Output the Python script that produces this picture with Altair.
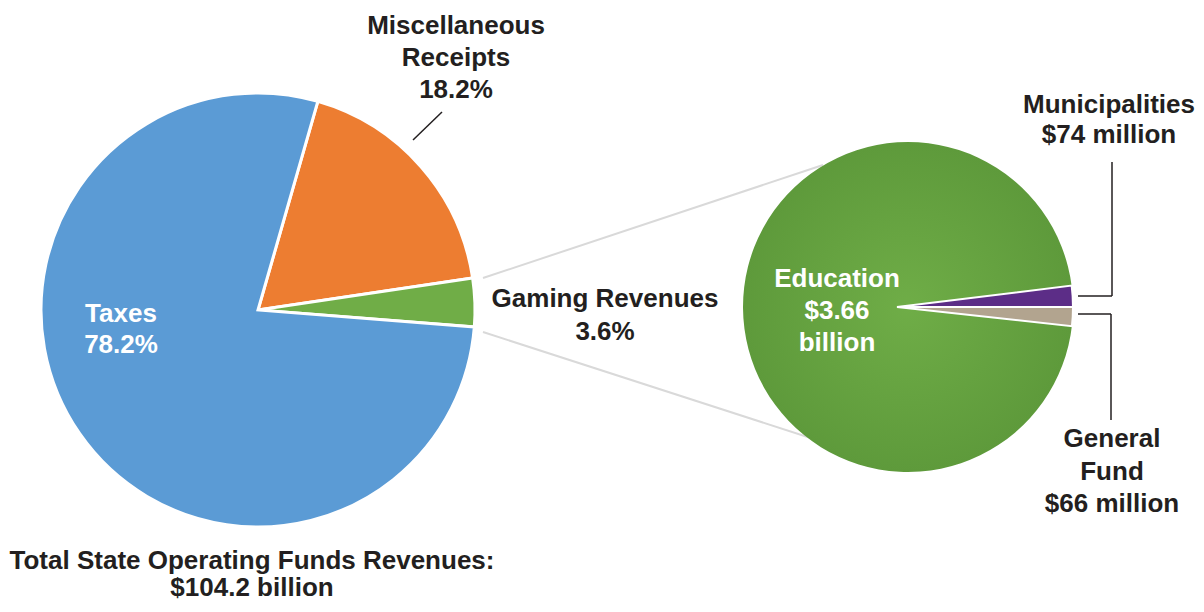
import math
import altair as alt
import pandas as pd

# ---------------- data ----------------
left_names = ["Miscellaneous Receipts", "Gaming Revenues", "Taxes"]
left_shares = [18.2, 3.6, 78.2]          # percent of total
left_colors = ["#ED7D31", "#70AD47", "#5B9BD5"]

right_names = ["Municipalities", "General Fund", "Education"]
right_values = [74, 66, 3660]             # $ million
right_colors = ["#5C2D87", "#B2A48F", "#64A03F"]

total_label = ["Total State Operating Funds Revenues:", "$104.2 billion"]
misc_label = ["Miscellaneous", "Receipts", f"{left_shares[0]}%"]
gaming_label = ["Gaming Revenues", f"{left_shares[1]}%"]
taxes_label = ["Taxes", f"{left_shares[2]}%"]
edu_label = ["Education", "$3.66", "billion"]
muni_label = ["Municipalities", f"${right_values[0]} million"]
gf_label = ["General", "Fund", f"${right_values[1]} million"]

# ---------------- layout ----------------
W, H = 1188, 596
FONT = "Liberation Sans"
FS = 26
DARK = "#231F20"
GREY = "#D9D9D9"

L_CX, L_CY, L_R = 250, 302, 217
L_START = math.radians(16)
R_CX, R_CY, R_R = 900, 299, 165
RS_CX, RS_R = 889, 176
R_START = math.radians(83)
TAU = 2 * math.pi

blank = alt.Data(values=[{}])

# ---------------- left pie ----------------
left_df = pd.DataFrame({"name": left_names, "share": left_shares,
                        "order": list(range(len(left_names)))})
left_pie = alt.Chart(left_df).mark_arc(
    outerRadius=L_R, x=L_CX, y=L_CY, stroke="white", strokeWidth=3
).encode(
    theta=alt.Theta("share:Q", stack=True,
                    scale=alt.Scale(range=[L_START, L_START + TAU])),
    color=alt.Color("name:N", scale=alt.Scale(domain=left_names, range=left_colors),
                    legend=None),
    order=alt.Order("order:Q"),
)

# ---------------- right pie ----------------
right_df = pd.DataFrame({"name": right_names, "value": right_values})
right_df["end"] = right_df["value"].cumsum()
right_df["start"] = right_df["end"] - right_df["value"]
r_total = float(sum(right_values))
r_theta_scale = alt.Scale(domain=[0, r_total], range=[R_START, R_START + TAU])

edu_fill = {
    "gradient": "radial",
    "stops": [{"offset": 0, "color": "#6FAD47"}, {"offset": 1, "color": "#5E9A3B"}],
    "x1": 0.5, "y1": 0.5, "r1": 0, "x2": 0.5, "y2": 0.5, "r2": 0.5,
}
edu_pie = alt.Chart(right_df).transform_filter(
    alt.datum.name == "Education"
).mark_arc(outerRadius=R_R, x=R_CX, y=R_CY, fill=edu_fill).encode(
    theta=alt.Theta("start:Q", scale=r_theta_scale),
    theta2="end:Q",
)

small_pie = alt.Chart(right_df).transform_filter(
    alt.datum.name != "Education"
).mark_arc(outerRadius=RS_R, x=RS_CX, y=R_CY, stroke="white", strokeWidth=2).encode(
    theta=alt.Theta("start:Q", scale=r_theta_scale),
    theta2="end:Q",
    color=alt.Color("name:N", scale=alt.Scale(domain=right_names, range=right_colors),
                    legend=None),
)


# ---------------- decorations ----------------
def seg(x1, y1, x2, y2, color, width):
    return alt.Chart(blank).mark_rule(color=color, strokeWidth=width).encode(
        x=alt.value(x1), y=alt.value(y1), x2=alt.value(x2), y2=alt.value(y2)
    )


def label(lines, x, y, lh, color=DARK):
    return alt.Chart(blank).mark_text(
        text=lines, x=x, y=y, lineHeight=lh, align="center", baseline="alphabetic",
        font=FONT, fontSize=FS, fontWeight="bold", color=color,
    )


layers = [
    seg(475, 270, 815, 157, GREY, 2),
    seg(475, 324, 815, 434, GREY, 2),
    left_pie,
    edu_pie,
    small_pie,
    seg(405, 132, 434, 104, DARK, 1.5),
    seg(1070, 288, 1104, 288, DARK, 1.5),
    seg(1104, 288, 1104, 154, DARK, 1.5),
    seg(1070, 306, 1103, 306, DARK, 1.5),
    seg(1103, 306, 1103, 412, DARK, 1.5),
    label(misc_label, 448, 26, 32),
    label(taxes_label, 113, 314, 31, "white"),
    label(gaming_label, 597, 299, 33),
    label(edu_label, 829, 279, 32, "white"),
    label(muni_label, 1101, 105, 30),
    label(gf_label, 1104, 439, 32.5),
    label(total_label, 244, 561, 27),
]

chart = alt.layer(*layers).resolve_scale(
    theta="independent", color="independent"
).properties(
    width=W, height=H, padding=0, autosize=alt.AutoSizeParams(type="none"),
    background="white",
).configure_view(stroke=None)

chart.save("out.html", embed_options={"renderer": "svg", "actions": False})
